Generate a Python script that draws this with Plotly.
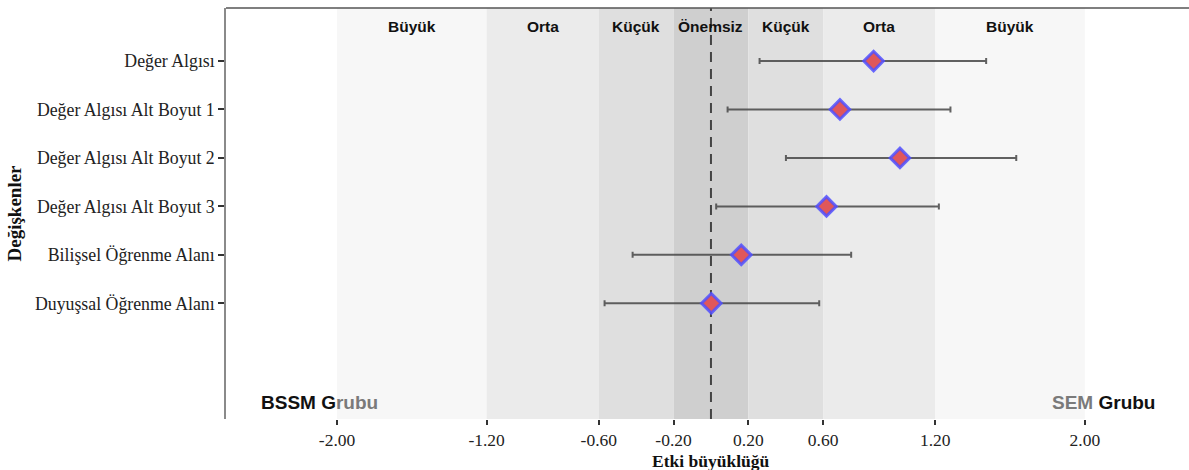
import plotly.graph_objects as go

categories = ["Değer Algısı", "Değer Algısı Alt Boyut 1", "Değer Algısı Alt Boyut 2",
              "Değer Algısı Alt Boyut 3", "Bilişsel Öğrenme Alanı", "Duyuşsal Öğrenme Alanı"]
estimates = [0.870, 0.690, 1.011, 0.618, 0.162, 0.002]
lower_ci = [0.260, 0.089, 0.401, 0.028, -0.419, -0.569]
upper_ci = [1.472, 1.281, 1.633, 1.219, 0.750, 0.579]

band_edges = [-2.0, -1.2, -0.6, -0.2, 0.2, 0.6, 1.2, 2.0]
band_colors = ["#f7f7f7", "#ebebeb", "#dfdfdf", "#cfcfcf", "#dfdfdf", "#ebebeb", "#f7f7f7"]
band_labels = ["Büyük", "Orta", "Küçük", "Önemsiz", "Küçük", "Orta", "Büyük"]
band_label_x = [-1.6, -0.9, -0.4, 0.0, 0.4, 0.9, 1.6]

tick_vals = [-2.0, -1.2, -0.6, -0.2, 0.2, 0.6, 1.2, 2.0]
tick_text = ["-2.00", "-1.20", "-0.60", "-0.20", "0.20", "0.60", "1.20", "2.00"]

serif = "Liberation Serif, Times New Roman, serif"
sans = "Liberation Sans, Arial, sans-serif"

fig = go.Figure()

fig.add_trace(go.Scatter(
    x=estimates,
    y=categories,
    mode="markers",
    marker=dict(symbol="diamond", size=15, color="#e0575a",
                line=dict(color="rgba(80,80,255,0.85)", width=3)),
    error_x=dict(type="data", symmetric=False,
                 array=[u - e for u, e in zip(upper_ci, estimates)],
                 arrayminus=[e - l for e, l in zip(estimates, lower_ci)],
                 color="rgba(70,70,70,0.85)", thickness=2, width=3),
    showlegend=False,
    hoverinfo="skip",
))

shapes = []
for i, col in enumerate(band_colors):
    shapes.append(dict(type="rect", xref="x", yref="paper",
                       x0=band_edges[i], x1=band_edges[i + 1], y0=0, y1=1,
                       fillcolor=col, line=dict(width=0), layer="below"))
shapes.append(dict(type="line", xref="x", yref="paper", x0=0, x1=0, y0=0, y1=1,
                   line=dict(color="#444444", width=2, dash="10px,7px"), layer="below"))
shapes.append(dict(type="line", xref="paper", yref="paper", x0=0, x1=1, y0=1, y1=1,
                   line=dict(color="#555555", width=1.5), layer="above"))

annotations = []
for lbl, xv in zip(band_labels, band_label_x):
    annotations.append(dict(x=xv, y=0.954, xref="x", yref="paper", text="<b>" + lbl + "</b>",
                            showarrow=False,
                            font=dict(family=sans, size=15.5, color="#111111"),
                            xanchor="center", yanchor="middle"))
annotations.append(dict(x=-2.095, y=0.04, xref="x", yref="paper",
                        text="<b>BSSM G<span style='color:#7a7a7a'>rubu</span></b>", showarrow=False,
                        font=dict(family=sans, size=19, color="#111111"),
                        xanchor="center", yanchor="middle"))
annotations.append(dict(x=2.099, y=0.04, xref="x", yref="paper",
                        text="<b><span style='color:#7a7a7a'>SEM</span> Grubu</b>", showarrow=False,
                        font=dict(family=sans, size=19, color="#111111"),
                        xanchor="center", yanchor="middle"))
annotations.append(dict(x=0.0, y=0, xref="x", yref="paper", yshift=-42,
                        text="<b>Etki büyüklüğü</b>", showarrow=False,
                        font=dict(family=serif, size=17.5, color="#111111"),
                        xanchor="center", yanchor="middle"))

fig.update_layout(
    width=1189, height=470,
    margin=dict(l=226, r=0, t=8, b=51),
    paper_bgcolor="white", plot_bgcolor="white",
    shapes=shapes, annotations=annotations,
    xaxis=dict(range=[-2.594, 2.557], tickvals=tick_vals, ticktext=tick_text,
               showgrid=False, zeroline=False, showline=False,
               ticks="outside", ticklen=5, tickwidth=1.5, tickcolor="#333333",
               tickfont=dict(family=serif, size=17.5, color="#222222")),
    yaxis=dict(type="category", categoryarray=categories[::-1],
               range=[-2.388, 6.094],
               showgrid=False, zeroline=False, showline=True,
               linecolor="#8a8a8a", linewidth=1.5,
               ticks="outside", ticklen=6, tickwidth=1.5, tickcolor="#333333",
               tickfont=dict(family=serif, size=17.8, color="#222222"),
               title=dict(text="<b>Değişkenler</b>", standoff=8,
                          font=dict(family=serif, size=19, color="#111111"))),
)

fig.write_html("out.html", config={"displayModeBar": False},
               post_script="document.body.style.margin='0';document.body.style.padding='0';")
